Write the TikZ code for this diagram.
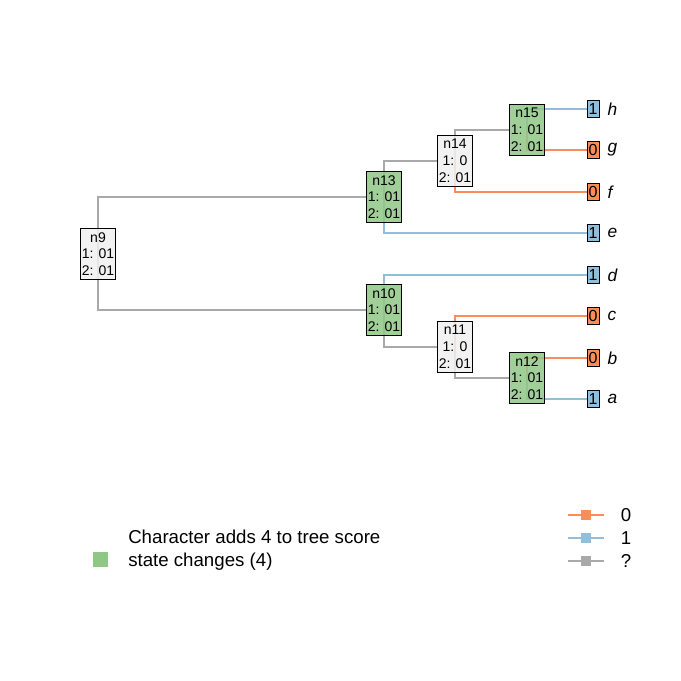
\documentclass[tikz,border=0pt]{standalone}
\usepackage{fontspec}
\setmainfont{Liberation Sans}
\usetikzlibrary{backgrounds}

\definecolor{stzero}{HTML}{FC8D59}
\definecolor{stone}{HTML}{91BFDB}
\definecolor{stunk}{HTML}{A9A9A9}
\definecolor{chg}{HTML}{90C786}
\definecolor{nochg}{HTML}{F0F0F0}

\tikzset{
  inode/.style={draw=black,thin,fill opacity=0.85,text opacity=1,align=center,
    minimum width=26.25pt,inner xsep=0pt,inner ysep=1pt,minimum height=38.25pt,
    font=\fontsize{10.5}{12.6}\selectfont},
  tipbox/.style={draw=black,thin,inner sep=0pt,minimum width=9pt,minimum height=12.75pt,
    font=\fontsize{12}{13}\selectfont},
  tiplbl/.style={inner sep=0pt,font=\fontsize{13}{15}\selectfont\itshape},
  edge/.style={line width=1.4pt}
}

\begin{document}
\begin{tikzpicture}[x=0.75pt,y=-0.75pt,label distance=6pt]
\useasboundingbox (0,0) rectangle (681,681);

% internal nodes
\node[inode,fill=nochg] (n9) at (98,254) {n9\\1: 01\\2: 01};
\node[inode,fill=chg] (n13) at (384,197) {n13\\1: 01\\2: 01};
\node[inode,fill=nochg] (n14) at (455,161) {n14\\1: 0\\2: 01};
\node[inode,fill=chg] (n15) at (527,130) {n15\\1: 01\\2: 01};
\node[inode,fill=chg] (n10) at (384,310) {n10\\1: 01\\2: 01};
\node[inode,fill=nochg] (n11) at (455,347) {n11\\1: 0\\2: 01};
\node[inode,fill=chg] (n12) at (527,378) {n12\\1: 01\\2: 01};

% tips
\node[tipbox,fill=stone,label={[tiplbl]right:h}] (h) at (593,109) {1};
\node[tipbox,fill=stzero,label={[tiplbl]right:g}] (g) at (593,150) {0};
\node[tipbox,fill=stzero,label={[tiplbl]right:f}] (f) at (593,192) {0};
\node[tipbox,fill=stone,label={[tiplbl]right:e}] (e) at (593,233) {1};
\node[tipbox,fill=stone,label={[tiplbl]right:d}] (d) at (593,275) {1};
\node[tipbox,fill=stzero,label={[tiplbl]right:c}] (c) at (593,316) {0};
\node[tipbox,fill=stzero,label={[tiplbl]right:b}] (b) at (593,358) {0};
\node[tipbox,fill=stone,label={[tiplbl]right:a}] (a) at (593,399) {1};

\begin{scope}[on background layer]
\draw[edge,stunk] (n9.center) |- (n13);
\draw[edge,stunk] (n9.center) |- (n10);
\draw[edge,stunk] (n13.center) |- (n14);
\draw[edge,stone] (n13.center) |- (e);
\draw[edge,stunk] (n14.center) |- (n15);
\draw[edge,stzero] (n14.center) |- (f);
\draw[edge,stone] (n15.center) |- (h);
\draw[edge,stzero] (n15.center) |- (g);
\draw[edge,stone] (n10.center) |- (d);
\draw[edge,stunk] (n10.center) |- (n11);
\draw[edge,stzero] (n11.center) |- (c);
\draw[edge,stunk] (n11.center) |- (n12);
\draw[edge,stzero] (n12.center) |- (b);
\draw[edge,stone] (n12.center) |- (a);
\end{scope}

% legend
\node[fill=chg,minimum size=11.25pt,inner sep=0pt] (chgkey) at (100,559.5) {};
\node[anchor=west,align=left,inner sep=0pt,font=\fontsize{14}{17.25}\selectfont]
  (chgtxt) at (128,550.5) {Character adds 4 to tree score\\state changes (4)};

\foreach \st/\col/\yy [count=\i] in {0/stzero/515,1/stone/538,?/stunk/561}{
  \coordinate (k\i w) at (568,\yy);
  \coordinate (k\i e) at (604,\yy);
  \draw[edge,\col] (k\i w) -- (k\i e);
  \node[fill=\col,minimum size=7.5pt,inner sep=0pt] (k\i m) at (586,\yy) {};
  \node[font=\fontsize{14}{16}\selectfont] (k\i t) at (626,\yy) {\st};
}

\end{tikzpicture}
\end{document}
